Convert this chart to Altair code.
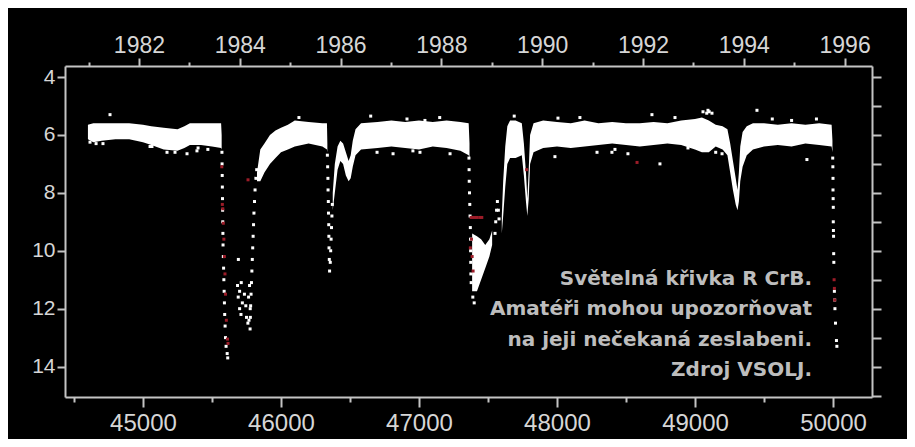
import altair as alt
import pandas as pd

# ---------------- data ----------------
# dense maximum-light band: envelope (top = brightest, bot = faintest) per segment
band_seg = ([0] * 15) + ([1] * 12) + ([2] * 20) + ([3] * 6) + ([4] * 46)
band_jd = [
    44601, 44640, 44700, 44800, 44900, 45000, 45060, 45150, 45250, 45300, 45340, 45420, 45500, 45566, 45570,
    45826, 45850, 45880, 45920, 45960, 46000, 46050, 46100, 46200, 46300, 46333, 46336,
    46375, 46390, 46410, 46430, 46450, 46470, 46490, 46505, 46520, 46540, 46580, 46700, 46800, 46900, 47000,
    47100, 47200, 47300, 47360, 47366,
    47385, 47420, 47450, 47480, 47510, 47530,
    47600, 47610, 47625, 47640, 47660, 47700, 47745, 47760, 47775, 47785, 47795, 47805, 47830, 47900, 48000,
    48100, 48200, 48300, 48400, 48500, 48600, 48700, 48800, 48900, 49000, 49050, 49100, 49150, 49200, 49235,
    49255, 49275, 49295, 49308, 49318, 49328, 49345, 49375, 49420, 49500, 49600, 49700, 49800, 49900, 49990,
    49996,
]
band_top = [
    5.65, 5.6, 5.6, 5.6, 5.6, 5.65, 5.7, 5.75, 5.8, 5.7, 5.6, 5.6, 5.6, 5.6, 6.0,
    7.3, 6.5, 6.3, 6.0, 5.85, 5.75, 5.65, 5.5, 5.55, 5.6, 5.6, 6.3,
    8.0, 7.0, 6.4, 6.2, 6.3, 6.6, 6.9, 6.7, 6.2, 5.8, 5.6, 5.55, 5.5, 5.55, 5.5,
    5.55, 5.5, 5.55, 5.6, 6.3,
    9.4, 9.5, 9.6, 9.8, 9.6, 9.3,
    8.8, 7.6, 6.4, 5.7, 5.5, 5.5, 5.6, 6.3, 7.3, 8.2, 7.2, 6.0, 5.6, 5.5, 5.55,
    5.6, 5.5, 5.6, 5.55, 5.6, 5.6, 5.55, 5.6, 5.5, 5.45, 5.4, 5.5, 5.65, 5.7, 5.8,
    6.3, 6.9, 7.5, 7.9, 7.3, 6.4, 5.9, 5.7, 5.6, 5.6, 5.65, 5.6, 5.65, 5.6, 5.65,
    6.2,
]
band_bot = [
    6.15, 6.25, 6.2, 6.15, 6.15, 6.25, 6.35, 6.5, 6.55, 6.45, 6.35, 6.35, 6.4, 6.45, 6.5,
    7.6, 7.6, 7.3, 7.0, 6.8, 6.6, 6.5, 6.4, 6.3, 6.4, 6.5, 6.6,
    8.6, 8.0, 7.2, 6.9, 7.0, 7.4, 7.6, 7.5, 7.1, 6.7, 6.5, 6.45, 6.4, 6.45, 6.5,
    6.4, 6.45, 6.55, 6.7, 6.8,
    11.4, 11.4, 11.0, 10.6, 10.2, 9.8,
    9.4, 8.8, 7.8, 7.0, 6.8, 6.8, 6.7, 7.4, 8.3, 8.8, 8.2, 7.0, 6.6, 6.45, 6.4,
    6.45, 6.4, 6.35, 6.3, 6.35, 6.4, 6.35, 6.3, 6.35, 6.5, 6.6, 6.6, 6.4, 6.5, 6.7,
    7.3, 7.9, 8.4, 8.6, 8.3, 7.6, 7.1, 6.7, 6.5, 6.4, 6.35, 6.4, 6.3, 6.35, 6.4,
    6.6,
]

# individual white observations (fading branches, recovery, stray points)
obs_jd = [
    45572, 45573, 45574, 45575, 45576, 45577, 45578, 45579, 45580, 45582, 45584, 45586, 45588, 45590, 45592,
    45595, 45598, 45602, 45610, 45614,
    45691, 45685, 45690, 45700, 45712, 45700, 45710, 45720, 45735, 45745, 45750, 45760, 45768, 45765, 45772,
    45776, 45778, 45780, 45783, 45786, 45789, 45792, 45795, 45798, 45801, 45804, 45808, 45812, 45818, 45824,
    45777,
    46336, 46338, 46340, 46341, 46343, 46344, 46346, 46347, 46348, 46350, 46352, 46357, 46360, 46363, 46366,
    46369, 46372,
    47362, 47363, 47364, 47366, 47368, 47370, 47372, 47373, 47374, 47375, 47376, 47378, 47390, 47400,
    49998, 49999, 50000, 50000, 50001, 50002, 50002, 50003, 50004, 50005, 50006, 50010, 50012, 50014, 50018,
    50025, 50028,
    44761, 44616, 45399, 45232, 45065, 44660, 45470, 47985, 48166, 48398, 48688, 48746, 48855, 49085, 49094,
    49103, 49449, 49811, 48514, 48290, 46130, 46650, 47150, 47690,
    44710, 45051, 45391, 45174, 45319, 46913, 47043, 46696, 46956, 46812, 47007, 47225, 48007, 48420, 48949,
    49058, 49123, 49150, 49196, 49560, 49700, 49880, 47551, 47556, 47562, 47568, 47575, 47580,
]
obs_mag = [
    6.6, 7.0, 7.4, 7.8, 8.2, 8.6, 9.0, 9.4, 9.8, 10.2, 10.6, 11.0, 11.4, 11.8, 12.2,
    12.6, 13.0, 13.3, 13.55, 13.7,
    10.3, 11.2, 11.6, 11.4, 11.1, 12.0, 12.2, 11.8, 11.5, 11.9, 12.3, 12.5, 12.4, 11.6, 11.2,
    12.7, 12.3, 11.9, 11.5, 11.1, 10.7, 10.3, 9.9, 9.5, 9.1, 8.7, 8.3, 7.9, 7.5, 7.2,
    12.0,
    6.7, 7.1, 7.5, 7.9, 8.3, 8.7, 9.1, 9.5, 9.9, 10.3, 10.7, 10.4, 10.0, 9.6, 9.2,
    8.8, 8.4,
    6.8, 7.2, 7.6, 8.0, 8.4, 8.8, 9.2, 9.6, 10.0, 10.4, 10.8, 11.1, 11.6, 11.8,
    6.8, 7.1, 7.5, 7.9, 8.2, 8.5, 9.0, 9.3, 9.5, 10.1, 10.4, 11.4, 11.7, 12.0, 12.5,
    13.1, 13.3,
    5.3, 6.25, 6.45, 6.6, 6.4, 6.3, 6.5, 6.75, 5.4, 6.6, 5.3, 7.0, 5.4, 5.25, 5.15,
    5.2, 5.15, 6.85, 6.65, 6.6, 5.4, 5.35, 5.4, 5.35,
    6.3, 6.4, 6.55, 6.6, 6.65, 5.45, 5.5, 6.6, 6.55, 6.65, 6.6, 6.65, 5.42, 6.5, 6.45,
    5.2, 5.25, 6.6, 6.65, 5.45, 5.5, 5.45, 9.4, 9.0, 8.6, 8.3, 8.6, 8.9,
]

# red observations
red_jd = [45575, 45578, 45582, 45586, 45590, 45594, 45598, 45604, 45612, 45616, 45571,
          47378, 47390, 47405, 47420, 47440, 47455, 47380, 47385, 47392, 47372,
          45761, 48580, 47780, 50008, 50012, 50010]
red_mag = [8.4, 8.55, 9.05, 9.6, 10.2, 10.8, 11.5, 12.4, 13.05, 13.2, 7.1,
           8.85, 8.85, 8.85, 8.85, 8.85, 8.85, 9.6, 10.2, 10.7, 9.9,
           7.55, 6.95, 7.2, 11.0, 11.7, 11.3]

# axis ticks
jd_ticks = [44500, 45000, 45500, 46000, 46500, 47000, 47500, 48000, 48500, 49000, 49500, 50000]
year_ticks = list(range(1981, 1997))
mag_ticks = list(range(4, 16))

note_lines = [
    "Světelná křivka R CrB.",
    "Amatéři mohou upozorňovat",
    "na jeji nečekaná zeslabeni.",
    "Zdroj VSOLJ.",
]

# ---------------- scales ----------------
JD_MIN, JD_MAX = 44434.8, 50282.6
MAG_MIN, MAG_MAX = 3.62, 15.05
JD_1982 = 44970.5
YEAR_MIN = 1982 + (JD_MIN - JD_1982) / 365.25
YEAR_MAX = 1982 + (JD_MAX - JD_1982) / 365.25

LABEL_FONT = "Liberation Sans"
FRAME = "#c4c4c4"
LABEL = "#d6d6d6"

base_axis = dict(domain=True, domainColor=FRAME, domainWidth=2, tickColor=FRAME, tickWidth=2,
                 labelColor=LABEL, labelFont=LABEL_FONT, grid=False, title=None,
                 labelOverlap=False, labelFlush=False, labelBound=False)

x_scale = alt.Scale(domain=[JD_MIN, JD_MAX], nice=False, zero=False)
y_scale = alt.Scale(domain=[MAG_MIN, MAG_MAX], nice=False, zero=False, reverse=True)

x_axis = alt.Axis(orient="bottom", values=jd_ticks, format="d", labelFontSize=24, labelPadding=4,
                  labelExpr="datum.value % 1000 == 0 ? datum.label : ''",
                  tickSize=alt.condition("datum.value % 1000 == 0", alt.value(10), alt.value(5)),
                  **base_axis)
y_axis = alt.Axis(orient="left", values=mag_ticks, format="d", labelFontSize=21, labelPadding=2,
                  tickSize=8, labelExpr="datum.value % 2 == 0 ? datum.label : ''", **base_axis)

band_df = pd.DataFrame({"seg": band_seg, "jd": band_jd, "top": band_top, "bot": band_bot})
obs_df = pd.DataFrame({"jd": obs_jd, "mag": obs_mag})
red_df = pd.DataFrame({"jd": red_jd, "mag": red_mag})
year_df = pd.DataFrame({"year": year_ticks, "mag": [6] * len(year_ticks)})

band = alt.Chart(band_df).mark_area(color="white", opacity=1, interpolate="linear").encode(
    x=alt.X("jd:Q", scale=x_scale, axis=x_axis),
    y=alt.Y("top:Q", scale=y_scale, axis=y_axis),
    y2="bot:Q",
    detail="seg:N",
)
obs = alt.Chart(obs_df).mark_square(color="white", size=9, opacity=1).encode(
    x="jd:Q", y="mag:Q"
)
red = alt.Chart(red_df).mark_square(color="#9c1c28", size=9, opacity=1).encode(
    x="jd:Q", y="mag:Q"
)

texts = []
for i, line in enumerate(note_lines):
    texts.append(
        alt.Chart(pd.DataFrame({"t": [line]})).mark_text(
            align="right", baseline="middle", font="DejaVu Sans", fontWeight="bold",
            fontSize=20, color="#bdbdbd"
        ).encode(text="t:N", x=alt.value(747), y=alt.value(213 + 30.3 * i))
    )

inner = alt.layer(band, obs, red, *texts)

top = alt.Chart(year_df).mark_point(opacity=0).encode(
    x=alt.X("year:Q", scale=alt.Scale(domain=[YEAR_MIN, YEAR_MAX], nice=False, zero=False),
            axis=alt.Axis(orient="top", values=year_ticks, format="d", labelFontSize=23, labelPadding=1,
                          labelExpr="datum.value % 2 == 0 ? datum.label : ''",
                          tickSize=alt.condition("datum.value % 2 == 0", alt.value(8), alt.value(4)),
                          **base_axis)),
    y=alt.Y("mag:Q", scale=y_scale,
            axis=alt.Axis(orient="right", values=mag_ticks, labels=False, tickSize=9, **base_axis)),
)

chart = alt.layer(inner, top).resolve_scale(x="independent", y="independent").properties(
    width=807, height=331, autosize="none",
    padding={"left": 57, "top": 58, "right": 35, "bottom": 42},
    background="black",
).configure_view(strokeWidth=0)

chart.save("out.html", embed_options={"renderer": "svg", "actions": False})
